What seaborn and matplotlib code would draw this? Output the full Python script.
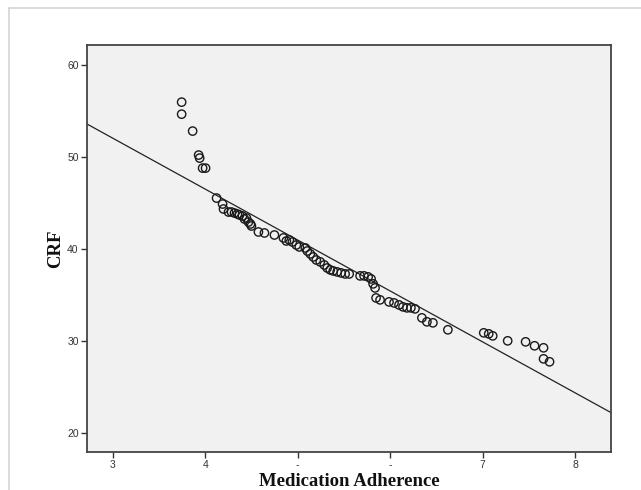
import matplotlib
matplotlib.use("Agg")
import matplotlib.pyplot as plt
from matplotlib.lines import Line2D
import seaborn as sns
import pandas as pd

# ---- data ----
adherence = [3.744, 3.744, 3.863, 3.928, 3.939, 3.971, 4.003,
             4.122, 4.187, 4.197, 4.251, 4.284, 4.316, 4.348, 4.370, 4.402,
             4.424, 4.445, 4.467, 4.489, 4.499, 4.575, 4.640, 4.748, 4.845,
             4.877, 4.909, 4.942, 4.985, 5.017, 5.082, 5.104, 5.136, 5.168,
             5.201, 5.244, 5.287, 5.319, 5.352, 5.384, 5.427, 5.470, 5.513,
             5.557, 5.675, 5.718, 5.762, 5.794, 5.816, 5.837, 5.848, 5.891,
             5.988, 6.042, 6.096, 6.139, 6.182, 6.225, 6.269, 6.344, 6.398,
             6.463, 6.625, 7.013, 7.067, 7.110, 7.272, 7.466, 7.563, 7.660,
             7.660, 7.725]
crf = [55.98, 54.67, 52.83, 50.22, 49.89, 48.80, 48.80,
       45.54, 44.89, 44.35, 44.02, 44.02, 43.91, 43.80, 43.70, 43.59,
       43.26, 43.37, 42.93, 42.72, 42.50, 41.85, 41.74, 41.52, 41.20,
       40.87, 40.98, 40.76, 40.43, 40.22, 40.11, 39.78, 39.46, 39.13,
       38.80, 38.59, 38.26, 37.93, 37.72, 37.61, 37.50, 37.39, 37.28,
       37.28, 37.07, 37.07, 36.96, 36.74, 36.20, 35.76, 34.67, 34.46,
       34.24, 34.13, 33.91, 33.70, 33.59, 33.59, 33.48, 32.50, 32.07,
       31.96, 31.20, 30.87, 30.76, 30.54, 30.00, 29.89, 29.46, 29.24,
       28.04, 27.72]
fit_intercept = 68.67
fit_slope = -5.54
xticks = [3, 4, 5, 6, 7, 8]
xtick_labels = ["3", "4", "-", "-", "7", "8"]
yticks = [20, 30, 40, 50, 60]
ytick_labels = ["20", "30", "40", "50", "60"]
xlabel = "Medication Adherence"
ylabel = "CRF"

df = pd.DataFrame({"Medication Adherence": adherence, "CRF": crf})

sns.set_theme(style="white")
fig = plt.figure(figsize=(6.41, 4.90), dpi=100)
fig.patch.set_facecolor("white")

# light frame around figure
fig.add_artist(Line2D([9/641, 9/641], [0, 1 - 8/490], color="#d4d4d4", lw=1.2, transform=fig.transFigure))
fig.add_artist(Line2D([9/641, 1], [1 - 8/490, 1 - 8/490], color="#d4d4d4", lw=1.2, transform=fig.transFigure))

ax = fig.add_axes([87/641, (490-452)/490, (611-87)/641, (452-45)/490])
ax.set_facecolor("#f1f1f1")

sns.scatterplot(data=df, x="Medication Adherence", y="CRF", ax=ax,
                marker="o", s=36, facecolor="none", edgecolor="#1a1a1a",
                linewidth=1.0, zorder=3)
ax.axline((0, fit_intercept), slope=fit_slope, color="#222222", lw=0.9, zorder=2)

ax.set_xlim(2.72, 8.39)
ax.set_ylim(17.9, 62.2)
ax.set_xticks(xticks)
ax.set_xticklabels(xtick_labels)
ax.set_yticks(yticks)
ax.set_yticklabels(ytick_labels)
ax.tick_params(axis="both", which="major", direction="out", length=4, width=1,
               color="#333333", labelsize=7.5, labelcolor="#333333",
               bottom=True, left=True, pad=2)
for t in ax.get_xticklabels() + ax.get_yticklabels():
    t.set_fontfamily("Liberation Sans")

for sp in ax.spines.values():
    sp.set_color("#444444")
    sp.set_linewidth(1.3)

ax.set_xlabel(xlabel, fontfamily="Liberation Serif", fontweight="bold",
              fontsize=13.5, color="#111111", labelpad=2)
ax.set_ylabel(ylabel, fontfamily="Liberation Serif", fontweight="bold",
              fontsize=13.5, color="#111111", labelpad=2)

fig.savefig("out.png", dpi=100, facecolor="white")
